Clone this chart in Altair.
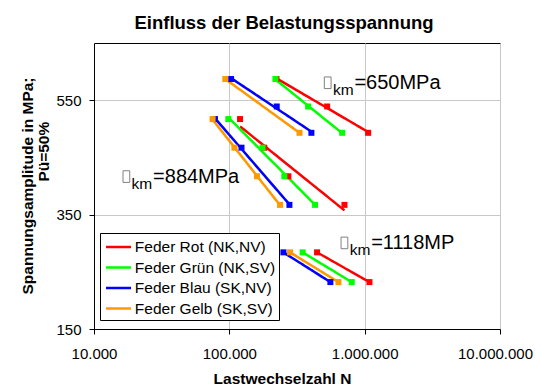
import altair as alt
import pandas as pd

FONT = "Liberation Sans"

SERIES = ["Feder Rot (NK,NV)", "Feder Grün (NK,SV)", "Feder Blau (SK,NV)", "Feder Gelb (SK,SV)"]
COLORS = ["#ff0000", "#00ff00", "#0000ff", "#ff9900"]

# sigma_km = 650 MPa
S_650 = [587, 539, 493]
N_650_rot = [223000, 528000, 1061000]
N_650_gruen = [219000, 382000, 682000]
N_650_blau = [103000, 224000, 404000]
N_650_gelb = [93400, 330000]
S_650_gelb = [587, 493]

# sigma_km = 884 MPa
S_884 = [517, 467, 417, 367]
N_884_rot = [120000, 181000, 273000, 709000]
N_884_gruen = [98300, 176000, 255000, 430000]
N_884_blau = [78300, 123000, 278000]
S_884_blau = [517, 467, 367]
N_884_gelb = [75200, 109000, 160000, 237000]

# sigma_km = 1118 MPa
S_1118 = [284, 232]
N_1118_rot = [445000, 1085000]
N_1118_gruen = [348000, 803000]
N_1118_blau = [251000, 558000]
N_1118_gelb = [281000, 640000]

ANNOT_TEXT = ["=650MPa", "=884MPa", "=1118MP"]
ANNOT_SUB = ["km", "km", "km"]
ANNOT_N = [504000, 16400, 670000]
ANNOT_S = [570, 406, 290]

X_TICKS = [10000, 100000, 1000000, 10000000]
Y_TICKS = [150, 350, 550]

YTITLE_LINE2 = ["Pü=50%"]
YTITLE_LINE2_S = [460]

parts = [
    (SERIES[0], "650", N_650_rot, S_650),
    (SERIES[1], "650", N_650_gruen, S_650),
    (SERIES[2], "650", N_650_blau, S_650),
    (SERIES[3], "650", N_650_gelb, S_650_gelb),
    (SERIES[0], "884", N_884_rot, S_884),
    (SERIES[1], "884", N_884_gruen, S_884),
    (SERIES[2], "884", N_884_blau, S_884_blau),
    (SERIES[3], "884", N_884_gelb, S_884),
    (SERIES[0], "1118", N_1118_rot, S_1118),
    (SERIES[1], "1118", N_1118_gruen, S_1118),
    (SERIES[2], "1118", N_1118_blau, S_1118),
    (SERIES[3], "1118", N_1118_gelb, S_1118),
]
rows = []
for s, g, ns, ss in parts:
    for n, v in zip(ns, ss):
        rows.append({"series": s, "group": g, "order": SERIES.index(s), "N": n, "S": v})
df = pd.DataFrame(rows).sort_values(["order", "group"], kind="stable")

ann = pd.DataFrame({"txt": ANNOT_TEXT, "sub": ANNOT_SUB, "N": ANNOT_N, "S": ANNOT_S})

x_scale = alt.Scale(type="log", domain=[10000, 10000000], nice=False)
y_scale = alt.Scale(domain=[150, 650], nice=False, zero=False)

x_enc = alt.X(
    "N:Q", scale=x_scale,
    axis=alt.Axis(
        values=X_TICKS,
        labelExpr="replace(format(datum.value, ','), regexp(',', 'g'), '.')",
        labelOffset={"condition": {"test": "datum.value >= 9000000", "value": -5}, "value": 0},
        title="Lastwechselzahl N",
        titleX=188, titleY=49, titleAlign="center", titleBaseline="middle",
        labelPadding=12, tickSize=5, grid=True, labelFlush=False, labelOverlap=False,
    ),
)
y_enc = alt.Y(
    "S:Q", scale=y_scale,
    axis=alt.Axis(
        values=Y_TICKS,
        title="Spannungsamplitude in MPa;",
        titleX=-67, titleY=142.5, titleAngle=270, titleAlign="center", titleBaseline="middle",
        labelPadding=8, tickSize=5, grid=True,
    ),
)
color_scale = alt.Scale(domain=SERIES, range=COLORS)

lines = (
    alt.Chart(df)
    .transform_regression("N", "S", method="log", groupby=["series", "group"])
    .mark_line(strokeWidth=2.5, clip=True)
    .encode(
        x=x_enc, y=y_enc,
        detail="group:N",
        color=alt.Color(
            "series:N", scale=color_scale,
            legend=alt.Legend(
                title=None, orient="none", legendX=6, legendY=190,
                symbolType="M-1.28,0L1.28,0", symbolSize=380, symbolStrokeWidth=2.5,
                labelFont=FONT, labelFontSize=15.5, labelColor="black",
                padding=3, symbolOffset=4.5, labelOffset=5.3, rowPadding=0.5,
                columnPadding=0,
                strokeColor="black", fillColor="white",
            ),
        ),
    )
)

points = (
    alt.Chart(df)
    .mark_point(shape="square", filled=True, size=36, opacity=1)
    .encode(x=x_enc, y=y_enc, color=alt.Color("series:N", scale=color_scale, legend=None), order="order:Q")
)

box = (
    alt.Chart(ann)
    .mark_point(shape="M-0.58,-1L0.58,-1L0.58,1L-0.58,1Z", filled=False, size=135,
                stroke="#808080", strokeWidth=1, opacity=1, xOffset=3.3, yOffset=-6)
    .encode(x=x_enc, y=y_enc)
)
sub = (
    alt.Chart(ann)
    .mark_text(font=FONT, fontSize=15.5, align="left", baseline="alphabetic", dx=8.5, dy=6, color="black")
    .encode(x=x_enc, y=y_enc, text="sub:N")
)
main = (
    alt.Chart(ann)
    .mark_text(font=FONT, fontSize=20, align="left", baseline="alphabetic", dx=30, color="black")
    .encode(x=x_enc, y=y_enc, text="txt:N")
)

ytitle2 = (
    alt.Chart(pd.DataFrame({"t": YTITLE_LINE2, "S": YTITLE_LINE2_S}))
    .mark_text(font=FONT, fontSize=15.5, fontWeight="bold", angle=270, align="center",
               baseline="middle", color="black")
    .encode(text="t:N", x=alt.value(-50), y=y_enc)
)

chart = (
    alt.layer(lines, points, box, sub, main, ytitle2)
    .properties(
        width=406, height=286,
        title=alt.TitleParams("Einfluss der Belastungsspannung", font=FONT, fontSize=18.5,
                              fontWeight="bold", color="black", anchor="middle", dx=-13,
                              offset=15.5, dy=20, baseline="alphabetic"),
        padding={"left": 86, "top": 35, "right": 33, "bottom": 56},
        autosize=alt.AutoSizeParams(type="none"),
        background="white",
    )
    .configure_view(stroke="black", strokeWidth=1)
    .configure_axis(
        labelFont=FONT, labelFontSize=15, labelColor="black",
        tickColor="black", domainColor="black", domainWidth=1,
        titleFont=FONT, titleFontSize=15.5, titleFontWeight="bold", titleColor="black",
        gridColor="#c8c8c8", gridWidth=1,
    )
)

chart.save("out.html", embed_options={"renderer": "svg", "actions": False})
